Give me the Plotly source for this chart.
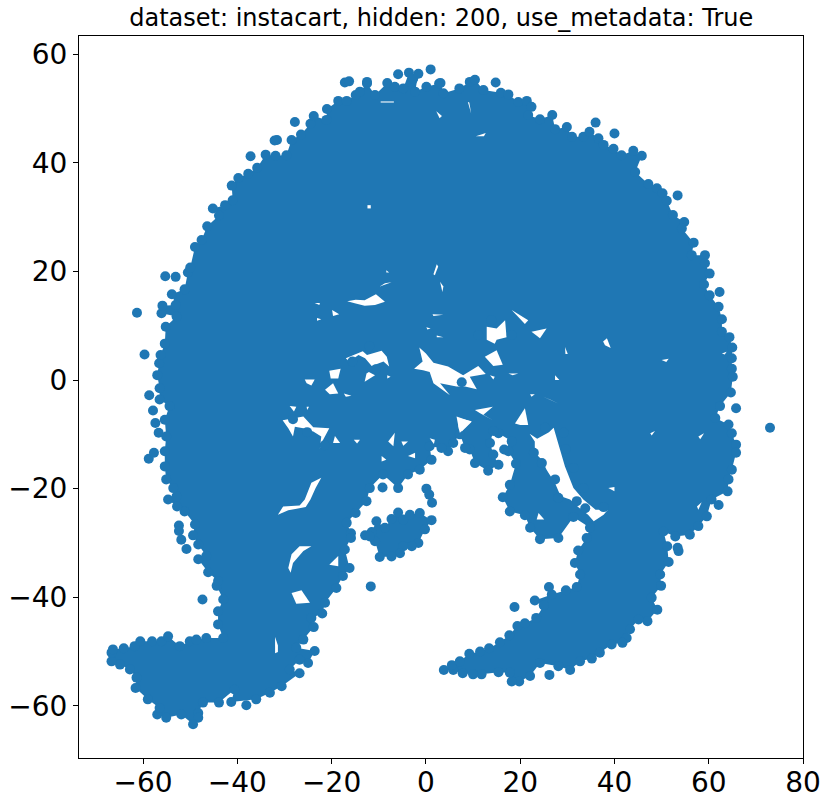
import plotly.graph_objects as go

# outer edge of the cloud, read clockwise off the picture
edge_points = [
    (-56.5,-1.5),(-57.0,0.9),(-56.6,3.1),(-56.3,4.6),(-55.4,6.7),(-55.2,9.8),(-52.9,11.7),(-56.1,12.3),
    (-55.9,13.7),(-53.1,13.8),(-53.9,15.8),(-51.2,16.7),(-50.5,19.8),(-50,20.7),(-49,24.5),(-47.6,25.8),
    (-46.4,28.3),(-43.9,30.3),(-45.2,31.6),(-42.6,32.2),(-41,33.1),(-41.2,35.8),(-39.8,37.2),(-37.7,38),
    (-35.8,39.1),(-34,41.5),(-31.9,41.3),(-29.6,41.4),(-28.5,44.2),(-26.5,45.2),(-24.5,47.2),(-23.8,48.6),
    (-21.1,47.9),(-21,49.9),(-18.6,51.4),(-16.8,51.4),(-14.9,52.5),(-14,53.1),(-12.5,54.6),(-10.8,52.5),
    (-8.2,54.7),(-6.6,54),(-4.8,53.7),(-3.6,56.6),(-2.7,55.5),(-1.6,56.4),(-2.3,53.1),(0.1,54),
    (2.8,54.6),(3.1,54.7),(3.7,52.8),(7.1,53.7),(9.3,54.9),(10.4,55.3),(12.2,53.4),(15.9,52.9),
    (17.5,52.6),(19.6,51.2),(21.4,51.4),(22.4,50.3),(21.7,48.8),(24.2,48),(26.8,48.8),(27.4,46.2),
    (29.9,46.6),(31,44.8),(33.4,44.8),(34.7,45.7),(36.6,44.5),(37.7,43.3),(39.8,42.6),(41.5,41.4),
    (44,42.2),(45.8,41.3),(44.4,38.3),(47.2,36.1),(49,35.3),(50.2,34.4),(51.1,33),(52.4,30.4),
    (54.8,29.1),(54.3,27.9),(56.8,25.3),(56.4,23),(59.2,23),(59.2,21.5),(60.2,19.6),(59,17.6),
    (60.2,15.6),(62.1,13.5),(62.8,11.2),(62.8,8.9),(64.4,7.9),(65,6),(64.9,4),(64.9,2.1),
    (65.1,0.6),(64.7,-2.3),(62.4,-4.8),(61.4,-7),(64.2,-8.2),(64.9,-9.8),(65.8,-11.9),(65.8,-13.4),
    (64.9,-16.5),(64.2,-18.3),(64,-20.5),(60.6,-22),(59.6,-25.1),(57.8,-26.9),(56,-28.5),(52.9,-28.8),
    (50.4,-27.9),(51.2,-30.6),(51.5,-33.5),(49.7,-35.8),(49.9,-37.9),(47.9,-40.1),(49.1,-42.3),(47,-44.4),
    (45.1,-44.1),(43.3,-45.9),(42.6,-47.5),(41.7,-48.4),(39.4,-48.7),(36.9,-50.2),(35.2,-51.3),(32.7,-51.8),
    (30.6,-53.4),(28.1,-52.7),(24.2,-52.1),(22.1,-54.5),(19.8,-55.5),(18.2,-55.5),(17.8,-53.9),(15.4,-53.8),
    (11.8,-54.2),(10,-54.2),(7.8,-54),(5.8,-53.4),(3.8,-53.4),(5.5,-52.5),(7.2,-51.8),(9.2,-50.4),
    (11.5,-50),(13.4,-49.4),(15.7,-48.3),(17.7,-47),(19.4,-45.3),(21,-44.8),(23.4,-43.8),(25,-41.5),
    (23.1,-40.6),(26.7,-39.5),(29.7,-38.7),(32,-38.1),(32.7,-35.8),(31.6,-33.7),(32.3,-31.4),(34.1,-29.1),
    (34.8,-27.2),(31.3,-25.2),(28.1,-29.1),(24.2,-29.3),(22.1,-27.2),(21,-24.9),(17.8,-24.2),(16.3,-21.6),
    (17.8,-19.3),(19.1,-15.4),(17.5,-13.1),(16.6,-12.8),(18.2,-11.3),(15.4,-9.8),(14.3,-9.4),(13.6,-11.6),
    (14.3,-13.7),(15.4,-15.6),(13.2,-16.7),(10.4,-15.3),(9.3,-12.8),(8.3,-12.5),(7.2,-10),(5.8,-11.6),
    (4.7,-13.1),(3.3,-12.5),(0.8,-12.2),(1.2,-14.7),(-1.3,-16.5),(-3.8,-17.4),(-5.9,-19.9),(-9.1,-17.4),
    (-11.9,-19.9),(-12.6,-22.3),(-14.9,-24.5),(-16.8,-26.3),(-15.9,-28.2),(-15.9,-29.1),(-17.2,-31.2),(-16.2,-34.6),
    (-17.6,-36.1),(-19,-38.3),(-21.4,-41),(-22,-43),(-24.3,-43.8),(-23.8,-45.5),(-26,-47.8),(-27.5,-49.3),
    (-23.6,-49.9),(-25,-52.1),(-26.8,-51.5),(-28.9,-53.3),(-26.8,-54),(-30.6,-56.4),(-33.1,-57.6),(-36,-58.8),
    (-41.3,-59.3),(-40.6,-57),(-43.9,-59.4),(-47.3,-59.4),(-48.3,-61.3),(-48.3,-62.2),(-49.4,-63.4),(-51.9,-61.6),
    (-55.1,-62.2),(-57,-61.6),(-56.5,-60.4),(-59,-58.8),(-61.6,-56.7),(-61.4,-54.8),(-62.8,-53.3),(-64.9,-52.4),
    (-66.7,-51.8),(-66.7,-50.2),(-66.4,-49.6),(-64.1,-49.4),(-61.8,-49),(-60.6,-48.1),(-58.1,-48.1),(-56.1,-48.1),
    (-54.7,-47.2),(-52.2,-49),(-50.1,-48.1),(-48.7,-47.8),(-46.6,-47.5),(-43,-47.5),(-44.1,-45),(-44.1,-42.6),
    (-43,-40.4),(-44.4,-37.9),(-44.1,-37),(-46.2,-35.4),(-48.3,-33),(-46.6,-32.4),(-48.3,-30.3),(-49.4,-28.6),
    (-49,-26.6),(-51.2,-24.2),(-52.8,-23.3),(-54.7,-22),(-52.9,-21.4),(-53.6,-19.9),(-55.1,-18.3),(-55.4,-15.9),
    (-55.4,-13.1),(-55.1,-10.4),(-55.4,-7.3),(-54.4,-4.8),(-56.5,-3.6),
]

# the separate blob under the notch
island_points = [
    (-12.9,-28.6),(-11.5,-28),(-10.5,-26),(-8.7,-27.2),(-7.3,-25.6),(-5.9,-24.4),(-4.8,-25.7),(-3.4,-24.8),
    (-1.3,-24.5),(1.2,-25.8),(-0.2,-27.5),(-1.6,-30),(-3,-30.6),(-4.8,-30.6),(-5.5,-31.9),(-7.3,-32.5),
    (-9.8,-32.6),(-10.8,-29.7),(-11.9,-28.8),
]

# single points standing off the cloud
stray_points = [
    (-58.7,-2.8),(-59.7,4.7),(-61.3,12.4),(-55.3,19.1),(-53.1,19),(-37.2,41.2),(-31.6,44.2),(-32.1,44.1),
    (-27.8,47.5),(-17.2,54.8),(-16.3,55),(-12.5,54.9),(-5.9,56.3),(1,57.2),(14.8,54.8),(36,47.4),
    (40,45.4),(53.4,34),(62.3,16.2),(65.8,-5.2),(73,-8.8),(62.1,-23),(53.6,-31.5),(53.4,-30.9),
    (26.2,-54.3),(18.8,-41.8),(26.1,-38.1),(37.7,-23.4),(29.2,-9.7),(-9.2,-19.8),(-11.7,-38),(0.1,-20),
    (0.7,-21.1),(1.3,-22.6),(-38.1,-59.9),(-47.4,-40.4),(-52.4,-26.8),(-52.4,-27.8),(-51.9,-29.4),(-50.8,-31.1),
    (-58.8,-14.5),(-57.7,-13.4),(-56.7,-9.7),(-57.4,-7.9),(-57.9,-5.6),
]

# points that bite into the larger gaps
rim_points = [
    (25.3,-8.8),(29.7,-12.7),(31.3,-16.2),(33.4,-19.9),(22.9,-13.4),(24.6,-15.3),(27.4,-18.3),(28.1,-21.7),
    (32,-22.3),(33.8,-23.6),(13.9,11),(18.2,8.3),(11.1,8.3),(7.6,-0.4),
    (-25.2,-9.6),(-28.2,-7.2),(-21.5,-12),(-12,6.2),(-15.6,3.4),(-10.6,2),
]

# white gaps inside the cloud
gap_shapes = [
    [(-16.7,14.5),(-14.9,14.8),(-13,14.7),(-10.6,15.8),(-8.7,14.4),(-10.8,13.8),(-13,13.7),(-14.9,14.1)],
    [(-17,4),(-14.3,4.9),(-13.4,5.3),(-12.5,4.6),(-9.4,5.4),(-8.3,4.3),(-7.8,2.5),(-9,3.4),(-11.5,2.6),(-12.9,4),(-14.3,4.6),(-16.3,3.4)],
    [(-20.5,1.7),(-18.1,2.1),(-18.6,0.3),(-20.2,0.3)],
    [(-25.7,0.1),(-23.6,0.1),(-24.3,-1),(-25.3,-0.6)],
    [(-21.4,-1.8),(-19.7,-0.6),(-18.6,-2.5),(-20.4,-2.6)],
    [(-2.5,2.1),(-0.7,3.4),(-1.4,6),(0,4.9),(1.6,3.2),(4.7,2.5),(7.9,0.9),(11.1,2.6),(12.7,1.1),(9.3,0.6),(10.8,-1.7),
     (8.3,-1.2),(6.5,-1.2),(4.4,-0.8),(3,-0.6),(5.1,-2.8),(1.6,-0.6),(0.8,1.5),(-0.6,1.8)],
    [(12.9,9.8),(15,9.5),(16.8,11),(17.1,7.9),(15,7.4),(14.6,6.7),(12.9,7.4)],
    [(12.5,4.3),(15,5.5),(16.3,2.8),(14.3,2.6)],
    [(18.2,12.9),(21.7,11),(21,10.3)],
    [(22.4,8.9),(25.6,9.5),(24.2,7.7)],
    [(-30.4,-7.4),(-26,-6.7),(-23.9,-8.7),(-20.5,-8.9),(-21.8,-11),(-22.5,-12.6),(-22.2,-10.4),(-23.9,-9.5),(-26,-8.9),(-27.8,-8.6),(-28.2,-10.4),(-29.2,-8.9)],
    [(10.4,-5.5),(14.2,-4.9),(12.2,-6.4),(14.2,-7.4),(11.5,-6.1)],
    [(18.9,-8),(21,-5.2),(21.7,-8.3),(20,-8.3)],
    [(6.5,-6.7),(9.7,-7.7),(7.6,-9.5),(6.9,-8.6)],
    [(6.9,-7),(9.7,-7.6),(7.2,-9.7),(6.9,-8.8)],
    # long channel between the lobe and the right hand mass
    [(22,-9.9),(23.6,-10.8),(26.1,-9.6),(27.1,-8.8),(28.1,-11.8),(29.5,-15.9),(31.3,-19.9),(33.4,-22),(36,-23.9),
     (38.6,-23.9),(37.7,-24.8),(35.6,-26),(34.4,-24.8),(32.3,-23.4),(30.6,-22),(28.6,-21.4),(27.4,-19),(25.6,-16.5),(24.6,-14.7),(23.1,-13.4),(23.1,-11.3)],
    [(38.7,-19.9),(40,-19.7),(40,-20.5)],
    [(23.9,-24.5),(25.1,-25.7),(23.5,-25.7)],
    [(-25.7,-22),(-24.3,-18.9),(-22.2,-18),(-23.4,-19.9),(-24.5,-22),(-25.5,-23.4),(-29.2,-24),(-31.4,-24.8),(-30.3,-23.3),(-26.8,-23.1)],
    [(-29.2,-34.6),(-28.5,-32.1),(-26.8,-30.6),(-24.3,-30.6),(-26,-31.5),(-27.4,-32.8),(-28.2,-33.7),(-28.7,-35.5)],
    [(-28.5,-39.2),(-26.4,-38.7),(-24.6,-41),(-27.5,-41.2)],
    [(-20.5,-34),(-18.6,-32.4),(-18.6,-34.3)],
    [(-32,-47.3),(-31.4,-48.9),(-31.4,-50.1),(-32,-50.3)],
    [(-19.3,-10.3),(-18.2,-11.6),(-19.7,-11.6)],
    [(-8,-11.3),(-6.6,-9.7),(-6.9,-12.2)],
    [(-3.8,-14),(-2.3,-13.4),(-2.3,-14.4)],
    [(-9.4,-14),(-8.4,-14.7),(-9.4,-15)],
    [(-9.8,17.2),(-7.3,18),(-8.7,17.8)],
    [(-12.4,32.2),(-11.7,32.2),(-11.7,31.6),(-12.4,31.6)],
    [(-9.6,51.3),(-6.8,51.3),(-6.8,51.1),(-9.6,51.1)],
    [(29.5,6.1),(30.1,4.8),(29.6,4.8)],
    [(37.6,7.1),(38.4,7.7),(39.2,5.9),(38,6.4)],
    [(62.8,4.9),(63.8,5.2),(63.4,4.7)],
    [(50,3.7),(51.5,3.9),(51,3.3)],
    [(10.6,44.9),(12.7,45.5),(12.3,44.9)],
    [(2.2,49.5),(3.4,48.6),(2.9,48.2)],
    [(8.9,51.2),(9.6,49.1),(9.2,51.1)],
    [(2.3,21.3),(2.6,20.9),(1.9,19.3),(1.6,19.5)],
    [(3,18.1),(3.7,17.2),(3.5,16.2)],
    # small specks
    [(-23.6,14.2),(-22.5,14.2),(-22.6,13.8)],
    [(-19.9,12.9),(-18.4,12.1),(-19.7,11.8)],
    [(-23.1,11.4),(-22.2,11.2),(-23.1,10.9)],
    [(1.4,12.1),(3.7,12),(1.6,11.8)],
    [(0.1,9.7),(1,9.5),(0.3,9.3)],
    [(2.3,8.2),(3.7,7.9),(2.3,7.9)],
    [(-8.4,20.2),(-7.8,19.8),(-8.4,19.8)],
    [(-12.6,1.2),(-12.1,1.5),(-10.8,0.9),(-11.9,0.3),(-13,-0.3)],
    [(-8.2,0.9),(-7.5,0.6),(-8.2,0.3)],
    [(-17.4,-2.5),(-15.8,-2.9),(-17,-3.1)],
    [(-28.9,-4.8),(-27.5,-4.9),(-28,-5.8)],
    [(-25.3,-4.9),(-24.8,-4.9),(-25.2,-5.5)],
    [(-15.3,-11),(-14,-11),(-14.6,-11.7)],
    [(-5.2,-11.3),(-3.8,-11.3),(-4.8,-12.1)],
    [(0.8,-10.7),(1.9,-11),(1.7,-11.8)],
    [(13.6,0.9),(14.6,0.6),(14.3,0.1)],
    [(17.5,1.2),(19.6,1.2),(18.4,0.9)],
    [(27.4,0.9),(28.3,0),(27.4,0)],
    [(24.9,-3.1),(28.1,-4.3),(26.3,-3.6)],
    [(22.1,-2.6),(23.1,-2.6),(22.4,-3.1)],
    [(47.6,-9.8),(48.6,-9.4),(47.9,-10.2)],
    [(57.8,-10.4),(59,-9.8),(58.2,-10.9)],
    [(57.5,-23.3),(58.5,-22.5),(57.8,-23.9)],
]

x_ticks = [-60, -40, -20, 0, 20, 40, 60, 80]
y_ticks = [-60, -40, -20, 0, 20, 40, 60]
BLUE = "#1f77b4"


def xs(points):
    return [p[0] for p in points]


def ys(points):
    return [p[1] for p in points]


fig = go.Figure()
for region in [edge_points, island_points]:
    fig.add_trace(go.Scatter(
        x=xs(region), y=ys(region),
        mode="markers", fill="toself", fillcolor=BLUE,
        marker=dict(color=BLUE, size=10),
        showlegend=False,
    ))
for gap in gap_shapes:
    fig.add_trace(go.Scatter(
        x=xs(gap), y=ys(gap),
        mode="lines", fill="toself", fillcolor="white",
        line=dict(width=0),
        showlegend=False,
    ))
fig.add_trace(go.Scatter(
    x=xs(stray_points) + xs(rim_points), y=ys(stray_points) + ys(rim_points),
    mode="markers",
    marker=dict(color=BLUE, size=10),
    showlegend=False,
))

axis_style = dict(
    showgrid=False, zeroline=False, showline=True, mirror=True, automargin=False,
    linecolor="black", linewidth=1, ticks="outside", ticklen=5, tickwidth=1,
    tickcolor="black", tickfont=dict(family="DejaVu Sans", size=28, color="black"),
)
fig.update_xaxes(range=[-73.6, 80], tickvals=x_ticks, ticklabelstandoff=-6, **axis_style)
fig.update_yaxes(range=[-69.6, 63.35], tickvals=y_ticks, **axis_style)
fig.update_layout(
    width=831, height=805,
    margin=dict(l=79, r=28, t=36, b=47),
    plot_bgcolor="white", paper_bgcolor="white",
    title=dict(
        text="dataset: instacart, hidden: 200, use_metadata: True",
        font=dict(family="DejaVu Sans", size=24, color="black"),
        x=0.531, xanchor="center", y=0.978, yanchor="middle",
    ),
)
# the browser's default body margin would push the plot off the page
fig.write_html("out.html", config=dict(displayModeBar=False), post_script="document.body.style.margin='0';")
